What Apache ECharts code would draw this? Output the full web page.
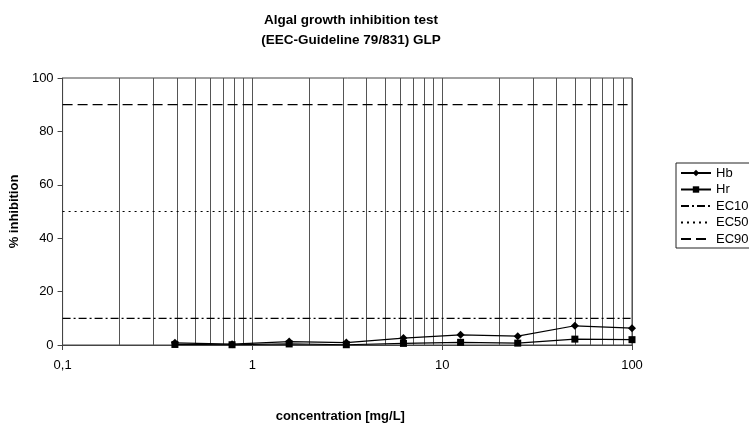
<!DOCTYPE html>
<html><head><meta charset="utf-8">
<script src="https://cdn.jsdelivr.net/npm/echarts@6/dist/echarts.min.js"></script>
<style>html,body{margin:0;padding:0;background:#fff}#c{width:749px;height:428px}</style>
</head><body><div id="c"></div>
<script>
const concentrations = [0.390625, 0.78125, 1.5625, 3.125, 6.25, 12.5, 25, 50, 100];
const hbValues = [0.8, 0.3, 1.3, 0.9, 2.6, 3.8, 3.3, 7.2, 6.3];
const hrValues = [0.2, 0.1, 0.4, 0.1, 0.6, 1.0, 0.7, 2.2, 2.0];
const ecLevels = { EC10: 10, EC50: 50, EC90: 90 };
const xRange = [0.1, 100];
const minorGridValues = [0.2,0.3,0.4,0.5,0.6,0.7,0.8,0.9,2,3,4,5,6,7,8,9,20,30,40,50,60,70,80,90];
const yTicks = [0, 20, 40, 60, 80, 100];

const font = 'Liberation Sans, Arial, sans-serif';
const chart = echarts.init(document.getElementById('c'));

function ecSeries(name, type) {
  return {
    name, type: 'line', symbol: 'none', silent: true,
    data: [[xRange[0], ecLevels[name]], [xRange[1], ecLevels[name]]],
    lineStyle: { color: '#000', width: 1.2, type },
    itemStyle: { color: '#000' }, z: 3
  };
}

chart.setOption({
  animation: false,
  backgroundColor: '#fff',
  title: {
    text: 'Algal growth inhibition test\n(EEC-Guideline 79/831) GLP',
    left: 346, top: 5, textAlign: 'center',
    textStyle: { fontFamily: font, fontSize: 13.5, fontWeight: 'bold', color: '#000', lineHeight: 20 }
  },
  grid: { left: 61, right: 117, top: 78, bottom: 82, show: true, borderColor: '#444', borderWidth: 1 },
  legend: {
    orient: 'vertical', left: 676, top: 163,
    itemWidth: 30, itemHeight: 8, itemGap: 2.5,
    padding: [3, 30, 2, 4],
    borderColor: '#222', borderWidth: 1, borderRadius: 0,
    textStyle: { fontFamily: font, fontSize: 13, color: '#000', lineHeight: 14 },
    data: [
      { name: 'Hb' }, { name: 'Hr' },
      { name: 'EC10', itemStyle: { opacity: 0 } },
      { name: 'EC50', itemStyle: { opacity: 0 } },
      { name: 'EC90', itemStyle: { opacity: 0 } }
    ]
  },
  xAxis: {
    type: 'log', logBase: 10, min: xRange[0], max: xRange[1],
    name: 'concentration [mg/L]', nameLocation: 'middle', nameGap: 65,
    nameTextStyle: { fontFamily: font, fontSize: 13, fontWeight: 'bold', color: '#000', padding: [0, 14, 0, 0] },
    axisLine: { lineStyle: { color: '#444' } },
    axisTick: { show: true, inside: false, length: 5, lineStyle: { color: '#444' } },
    axisLabel: { fontFamily: font, fontSize: 13, color: '#000', margin: 14,
      formatter: v => String(v).replace('.', ',') },
    splitLine: { show: true, lineStyle: { color: '#555', width: 1 } }
  },
  yAxis: {
    type: 'value', min: yTicks[0], max: yTicks[yTicks.length - 1], interval: 20,
    name: '% inhibition', nameLocation: 'middle', nameGap: 36, nameRotate: 90,
    nameTextStyle: { fontFamily: font, fontSize: 13, fontWeight: 'bold', color: '#000' },
    axisLine: { show: true, lineStyle: { color: '#444' } },
    axisTick: { show: true, inside: false, length: 5, lineStyle: { color: '#444' } },
    axisLabel: { fontFamily: font, fontSize: 13, color: '#000', margin: 9 },
    splitLine: { show: false }
  },
  series: [
    {
      name: 'Hb', type: 'line', symbol: 'diamond', symbolSize: 8,
      data: concentrations.map((c, i) => [c, hbValues[i]]),
      lineStyle: { color: '#000', width: 1.2 }, itemStyle: { color: '#000' }, z: 5,
      markLine: {
        silent: true, symbol: 'none', label: { show: false },
        lineStyle: { color: '#555', width: 1, type: 'solid' },
        data: minorGridValues.map(v => ({ xAxis: v })), z: 1
      }
    },
    {
      name: 'Hr', type: 'line', symbol: 'rect', symbolSize: 7,
      data: concentrations.map((c, i) => [c, hrValues[i]]),
      lineStyle: { color: '#000', width: 1.2 }, itemStyle: { color: '#000' }, z: 5
    },
    ecSeries('EC10', [8, 3, 2, 3]),
    ecSeries('EC50', [2, 4]),
    ecSeries('EC90', [10, 5])
  ]
});
</script></body></html>
